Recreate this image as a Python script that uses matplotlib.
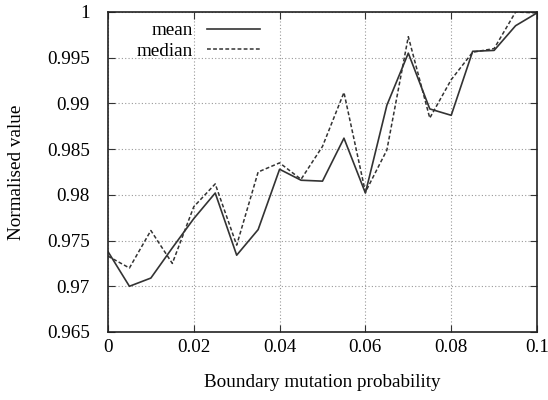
import numpy as np
import matplotlib.pyplot as plt

plt.rcParams['font.family'] = ['Liberation Serif', 'DejaVu Serif']

# boundary mutation probability sweep
prob = [0.000, 0.005, 0.010, 0.015, 0.020, 0.025, 0.030, 0.035, 0.040, 0.045, 0.050,
        0.055, 0.060, 0.065, 0.070, 0.075, 0.080, 0.085, 0.090, 0.095, 0.100]
mean_val = [0.9738, 0.9700, 0.9709, 0.9742, 0.9774, 0.9802, 0.9734, 0.9762, 0.9828, 0.9816, 0.9815,
            0.9862, 0.9802, 0.9898, 0.9955, 0.9894, 0.9887, 0.9957, 0.9958, 0.9985, 0.9999]
median_val = [0.9733, 0.9720, 0.9761, 0.9725, 0.9787, 0.9812, 0.9745, 0.9825, 0.9835, 0.9817, 0.9853,
              0.9912, 0.9803, 0.9849, 0.9973, 0.9884, 0.9926, 0.9956, 0.9960, 1.0000, 0.9999]

xticks = [0, 0.02, 0.04, 0.06, 0.08, 0.1]
xticklabels = ['0', '0.02', '0.04', '0.06', '0.08', '0.1']
yticks = [0.965, 0.97, 0.975, 0.98, 0.985, 0.99, 0.995, 1.0]
yticklabels = ['0.965', '0.97', '0.975', '0.98', '0.985', '0.99', '0.995', '1']

fig = plt.figure(figsize=(5.48, 4.0), dpi=100)
ax = fig.add_axes([0.197, 0.17, 0.783, 0.8])

ax.plot(prob, mean_val, color='#333333', lw=1.2, ls='-', label='mean')
ax.plot(prob, median_val, color='#333333', lw=1.1, ls=(0, (2.5, 1.5)), label='median')

ax.set_xlim(0, 0.1)
ax.set_ylim(0.965, 1.0)
ax.set_xticks(xticks)
ax.set_xticklabels(xticklabels)
ax.set_yticks(yticks)
ax.set_yticklabels(yticklabels)
ax.tick_params(direction='in', top=True, right=True, length=5, labelsize=13.8, color='#333333')
ax.tick_params(axis='x', pad=5)
ax.tick_params(axis='y', pad=13)
ax.grid(True, ls=(0, (1, 2)), color='#999999', lw=0.8)
for s in ax.spines.values():
    s.set_color('#222222')
    s.set_linewidth(1.2)

ax.set_xlabel('Boundary mutation probability', fontsize=13.8, labelpad=13)
ax.set_ylabel('Normalised value', fontsize=13.8, labelpad=16)

leg = ax.legend(loc='upper left', frameon=False, markerfirst=False, fontsize=13.8,
                handlelength=2.8, handletextpad=0.7, labelspacing=0.15,
                borderaxespad=0.0, bbox_to_anchor=(0.05, 0.993))

fig.savefig('out.png', dpi=100)
